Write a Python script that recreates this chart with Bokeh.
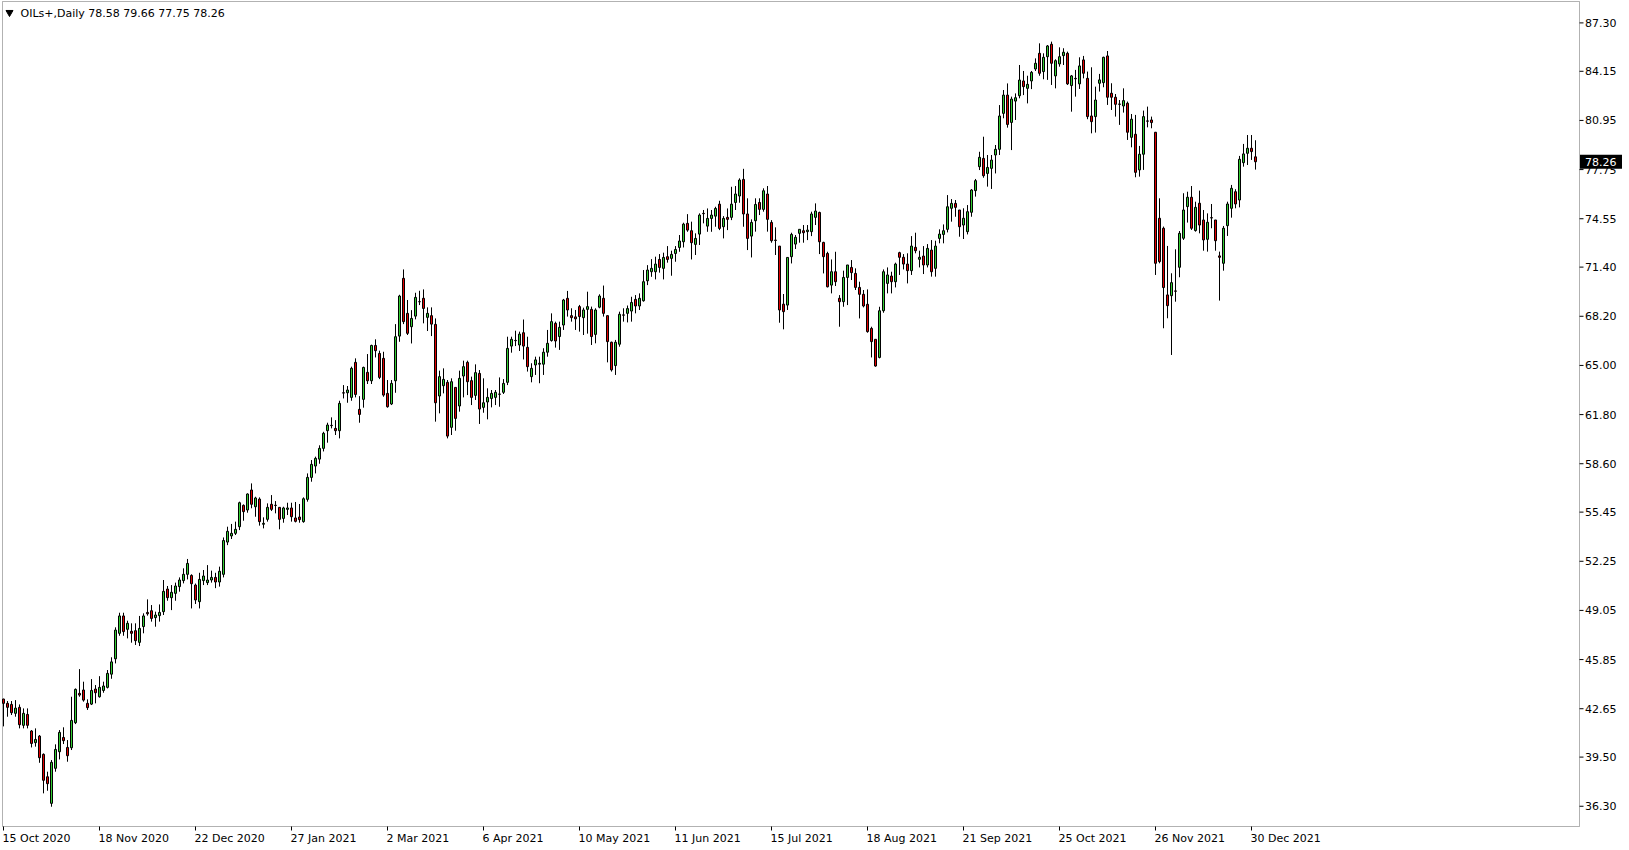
from bokeh.plotting import figure
from bokeh.models import Range1d, BoxAnnotation, ColumnDataSource
from bokeh.core.properties import value
from bokeh.embed import file_html
from bokeh.resources import INLINE

symbol = "OILs+,Daily"

open_ = [
    43.28, 43.00, 42.93, 42.35, 42.74, 41.57, 42.28, 41.20, 40.44, 40.87,
    39.68, 38.22, 36.49, 38.77, 39.85, 40.78, 40.13, 40.11, 41.74, 43.65,
    43.87, 43.00, 42.95, 43.93, 43.43, 43.84, 44.04, 44.90, 45.90, 47.56,
    48.69, 47.82, 47.69, 47.73, 46.97, 48.00, 48.92, 49.03, 48.58, 48.71,
    48.97, 50.44, 49.88, 50.16, 50.60, 50.99, 51.40, 51.33, 50.70, 49.62,
    50.99, 50.86, 51.03, 51.20, 50.90, 51.40, 53.50, 53.90, 54.07, 54.50,
    55.89, 55.59, 56.89, 55.80, 56.30, 54.66, 54.98, 55.96, 55.90, 55.76,
    55.04, 55.63, 55.72, 55.07, 55.13, 54.83, 56.28, 57.71, 58.45, 58.90,
    59.60, 60.75, 61.10, 60.90, 60.75, 63.22, 63.22, 62.92, 65.20, 62.14,
    62.79, 64.55, 64.00, 66.30, 65.78, 65.46, 63.18, 62.49, 64.00, 66.91,
    70.67, 68.39, 67.52, 68.21, 69.15, 69.37, 68.13, 68.24, 67.67, 63.01,
    63.68, 63.90, 60.97, 63.57, 62.36, 64.31, 65.20, 64.01, 63.05, 64.48,
    62.27, 62.62, 62.85, 62.92, 63.14, 63.25, 63.90, 66.26, 66.63, 66.33,
    67.13, 66.18, 64.27, 65.03, 65.08, 65.08, 65.86, 66.62, 67.74, 66.88,
    67.63, 69.37, 68.24, 68.16, 68.83, 68.11, 68.65, 68.65, 67.02, 68.79,
    69.37, 68.24, 66.51, 64.99, 66.38, 68.29, 68.39, 68.54, 69.30, 68.87,
    69.21, 70.51, 71.10, 71.10, 71.90, 71.32, 72.08, 71.97, 72.29, 72.68,
    73.05, 74.25, 73.77, 72.88, 73.55, 74.90, 74.07, 74.57, 74.72, 75.50,
    74.03, 74.64, 74.64, 75.61, 76.03, 77.11, 74.86, 73.42, 74.42, 75.61,
    75.16, 76.16, 74.31, 73.16, 72.77, 68.99, 68.93, 72.08, 72.90, 73.60,
    73.77, 73.71, 73.71, 74.64, 74.96, 73.01, 72.29, 70.23, 71.10, 69.37,
    69.15, 70.73, 71.38, 70.99, 70.08, 69.63, 68.98, 67.41, 66.70, 65.52,
    68.56, 70.34, 70.82, 70.45, 72.34, 72.04, 71.60, 71.17, 72.69, 71.91,
    72.12, 71.54, 72.51, 71.32, 73.27, 73.53, 73.86, 75.23, 75.55, 75.12,
    74.14, 73.71, 74.97, 76.38, 77.94, 78.48, 77.50, 77.83, 78.70, 79.07,
    81.41, 82.60, 80.82, 82.21, 82.56, 83.52, 83.04, 83.52, 84.30, 85.32,
    84.13, 85.10, 85.91, 83.85, 84.63, 85.17, 85.32, 83.22, 83.69, 83.33,
    84.89, 83.69, 81.24, 81.20, 83.37, 83.41, 85.15, 82.72, 82.46, 82.02,
    81.89, 82.07, 79.85, 80.05, 77.73, 78.75, 80.92, 80.98, 80.18, 74.58,
    73.93, 69.59, 69.54, 69.85, 71.39, 73.28, 75.34, 75.95, 73.78, 75.56,
    74.47, 73.21, 74.62, 74.47, 72.13, 71.65, 74.10, 75.23, 76.31, 75.77,
    78.20, 78.81, 79.14, 78.58,
]

high = [
    43.30, 43.15, 43.15, 43.21, 42.93, 42.67, 42.67, 41.26, 41.37, 40.94,
    39.74, 38.55, 39.31, 40.33, 41.26, 41.44, 40.61, 43.43, 43.97, 45.23,
    44.41, 43.26, 44.58, 44.19, 44.77, 44.41, 45.17, 46.00, 47.95, 48.90,
    48.90, 48.38, 48.21, 48.21, 48.69, 48.86, 49.77, 49.40, 48.97, 49.44,
    51.03, 50.64, 50.70, 50.86, 51.20, 51.79, 52.40, 51.40, 50.80, 51.50,
    51.68, 52.00, 51.64, 51.50, 51.90, 53.80, 54.50, 54.68, 54.83, 56.13,
    55.95, 56.67, 57.32, 56.45, 56.41, 55.11, 56.02, 56.56, 56.17, 55.76,
    55.80, 56.06, 56.06, 56.11, 55.98, 56.41, 57.97, 58.84, 59.06, 59.80,
    60.68, 61.27, 61.62, 61.44, 62.70, 63.72, 63.66, 64.92, 65.46, 63.00,
    64.92, 65.74, 66.35, 66.70, 65.96, 65.89, 64.05, 64.05, 67.69, 69.60,
    71.25, 69.26, 68.60, 69.73, 69.86, 69.95, 68.78, 68.78, 68.06, 64.66,
    64.81, 64.05, 64.16, 63.57, 64.66, 65.31, 65.31, 64.27, 65.07, 64.70,
    64.16, 63.51, 63.40, 63.40, 64.22, 64.11, 66.87, 66.87, 67.26, 67.20,
    67.99, 66.87, 65.14, 65.57, 65.57, 66.12, 67.31, 68.39, 67.85, 67.85,
    69.33, 69.85, 68.72, 68.61, 68.94, 68.76, 69.80, 68.83, 68.72, 69.63,
    70.20, 68.24, 66.55, 66.66, 68.50, 68.72, 68.90, 69.47, 69.58, 69.69,
    71.21, 71.53, 71.92, 72.08, 72.25, 72.34, 72.77, 72.47, 72.77, 73.49,
    74.29, 74.85, 74.36, 73.60, 74.90, 75.12, 75.22, 75.12, 75.33, 75.72,
    74.72, 75.22, 76.63, 76.68, 77.18, 77.80, 75.88, 74.51, 75.88, 75.88,
    76.53, 76.68, 74.46, 73.99, 72.77, 69.65, 72.03, 73.64, 73.49, 73.86,
    74.14, 74.14, 75.01, 75.55, 75.01, 73.05, 72.40, 71.90, 72.40, 69.58,
    71.17, 71.54, 71.86, 71.32, 70.45, 69.91, 69.95, 67.52, 66.70, 68.82,
    71.25, 71.38, 71.10, 71.69, 72.40, 72.25, 72.30, 73.42, 73.64, 72.47,
    72.77, 72.90, 73.16, 73.12, 73.86, 74.18, 76.09, 75.83, 75.77, 75.12,
    75.23, 75.44, 76.48, 77.14, 78.91, 79.89, 78.70, 78.70, 79.35, 81.95,
    82.93, 83.36, 82.50, 82.71, 84.56, 84.17, 83.86, 84.17, 84.99, 85.97,
    85.32, 85.86, 86.08, 84.93, 85.71, 85.65, 85.43, 83.91, 84.24, 85.06,
    85.15, 84.13, 84.41, 83.15, 83.98, 85.10, 85.47, 83.37, 82.67, 82.28,
    83.04, 82.18, 81.37, 81.31, 79.29, 81.59, 81.85, 81.20, 80.20, 75.88,
    74.04, 72.78, 71.00, 72.56, 73.75, 76.21, 76.31, 76.68, 75.66, 76.38,
    75.12, 74.90, 75.51, 74.47, 72.41, 74.08, 75.66, 76.75, 76.47, 78.64,
    79.42, 80.00, 80.00, 79.66,
]

low = [
    41.50, 42.13, 42.24, 42.13, 41.37, 41.37, 41.37, 40.13, 40.18, 39.13,
    37.14, 37.31, 36.27, 38.55, 39.35, 40.35, 39.20, 39.96, 41.65, 43.43,
    43.11, 42.57, 42.89, 43.00, 43.37, 43.69, 43.97, 44.60, 45.60, 47.40,
    47.40, 47.23, 46.95, 46.80, 46.73, 47.56, 48.71, 48.32, 47.99, 48.32,
    48.75, 49.68, 49.07, 49.68, 50.27, 50.81, 51.07, 49.18, 49.47, 49.18,
    50.70, 50.70, 50.86, 50.50, 50.60, 51.20, 53.30, 53.70, 53.96, 54.28,
    54.89, 55.41, 55.70, 55.15, 54.57, 54.39, 54.83, 55.52, 55.37, 54.33,
    54.76, 55.26, 54.83, 54.78, 54.76, 54.76, 56.13, 57.43, 57.97, 58.60,
    59.40, 59.97, 60.90, 60.47, 60.25, 62.85, 62.57, 62.70, 62.92, 61.27,
    62.25, 63.79, 63.79, 65.52, 64.11, 62.96, 62.25, 62.42, 63.22, 66.54,
    67.69, 66.98, 66.43, 68.00, 68.93, 67.74, 67.24, 66.91, 61.34, 61.88,
    63.18, 60.25, 60.47, 60.75, 61.99, 62.92, 63.07, 62.42, 62.75, 61.19,
    61.92, 61.49, 62.27, 62.42, 62.31, 63.14, 63.72, 65.83, 66.26, 65.94,
    65.39, 64.60, 63.90, 64.38, 63.84, 64.38, 65.57, 66.55, 66.16, 66.01,
    67.31, 68.18, 67.85, 67.31, 67.20, 66.98, 67.07, 66.33, 66.44, 68.72,
    68.18, 65.20, 64.60, 64.38, 66.22, 67.85, 67.80, 67.85, 68.39, 68.61,
    69.15, 70.23, 70.77, 70.60, 71.04, 70.60, 71.69, 70.84, 71.75, 72.40,
    72.68, 73.70, 71.90, 72.19, 72.84, 74.25, 73.70, 73.70, 74.03, 73.81,
    73.27, 73.81, 74.46, 75.12, 75.59, 74.03, 72.51, 72.03, 73.71, 74.79,
    75.01, 73.71, 72.99, 72.19, 67.78, 67.35, 68.61, 71.64, 72.58, 72.99,
    72.99, 73.16, 73.42, 74.14, 72.25, 70.99, 70.08, 69.69, 70.17, 67.52,
    68.82, 68.93, 70.56, 69.91, 68.06, 68.78, 67.13, 65.52, 64.92, 65.46,
    68.43, 69.69, 69.69, 70.08, 70.89, 71.25, 70.34, 70.89, 72.30, 71.38,
    70.95, 71.38, 70.78, 70.78, 72.95, 72.95, 73.66, 74.36, 74.68, 73.38,
    73.23, 73.53, 74.68, 75.99, 77.72, 77.22, 76.64, 76.49, 77.50, 78.70,
    81.09, 80.48, 79.02, 80.98, 82.39, 82.60, 82.06, 82.99, 84.17, 83.86,
    83.63, 83.59, 83.26, 83.04, 84.45, 84.56, 83.26, 81.52, 82.50, 83.00,
    83.69, 81.03, 80.11, 80.16, 82.83, 83.11, 81.96, 81.63, 81.20, 80.66,
    81.46, 79.68, 79.20, 77.25, 77.29, 77.73, 80.50, 80.44, 70.89, 71.65,
    67.42, 68.07, 65.68, 69.15, 70.74, 73.17, 74.30, 73.82, 73.71, 73.60,
    72.47, 72.41, 73.93, 72.47, 69.22, 71.17, 73.43, 74.62, 75.23, 75.29,
    77.94, 78.05, 78.38, 77.75,
]

close = [
    43.00, 42.74, 42.39, 42.69, 41.61, 42.35, 41.57, 40.39, 40.65, 39.46,
    37.99, 37.77, 39.16, 40.00, 41.11, 40.57, 39.59, 41.89, 43.91, 43.54,
    43.21, 42.72, 43.84, 43.69, 44.04, 44.13, 44.95, 45.70, 47.77, 48.69,
    47.67, 48.21, 47.56, 47.08, 47.88, 48.69, 48.83, 48.53, 48.75, 48.92,
    50.29, 49.88, 50.23, 50.64, 51.03, 51.40, 52.11, 50.79, 49.73, 51.07,
    51.29, 51.03, 51.20, 50.90, 51.60, 53.60, 54.20, 54.07, 54.33, 56.06,
    55.48, 56.63, 55.96, 56.37, 54.83, 54.72, 55.76, 55.63, 55.88, 54.98,
    55.72, 55.72, 55.15, 54.85, 54.96, 56.32, 57.71, 58.56, 58.95, 59.60,
    60.58, 61.12, 61.08, 60.75, 62.53, 63.20, 63.40, 64.81, 63.11, 61.81,
    64.87, 64.00, 66.30, 65.96, 64.22, 63.07, 62.31, 63.83, 66.87, 69.52,
    67.85, 67.09, 68.06, 69.43, 69.15, 68.71, 68.39, 67.69, 62.57, 64.27,
    64.09, 60.40, 63.94, 61.55, 64.16, 64.92, 63.94, 62.92, 64.53, 62.16,
    62.57, 62.92, 63.18, 63.25, 63.12, 63.83, 66.11, 66.70, 66.61, 67.04,
    66.26, 64.92, 64.81, 65.36, 65.14, 65.86, 66.44, 67.85, 66.59, 67.48,
    69.26, 68.61, 68.11, 68.03, 68.18, 68.61, 68.83, 66.88, 68.61, 69.52,
    68.39, 66.55, 64.71, 66.51, 68.33, 68.27, 68.70, 69.10, 68.87, 69.37,
    70.45, 71.21, 71.32, 71.60, 71.38, 72.03, 71.90, 72.23, 72.55, 73.10,
    74.20, 73.81, 72.99, 73.27, 74.79, 74.88, 74.57, 74.79, 75.22, 73.92,
    74.57, 74.51, 75.50, 76.16, 77.07, 74.86, 73.27, 74.31, 75.48, 75.16,
    76.37, 74.51, 73.12, 73.14, 68.61, 68.50, 72.03, 73.53, 73.34, 73.86,
    73.64, 73.81, 74.86, 75.05, 73.05, 72.08, 70.12, 71.10, 70.45, 69.15,
    70.73, 71.54, 71.04, 70.08, 69.63, 68.87, 67.20, 66.55, 64.96, 68.56,
    71.10, 70.89, 70.45, 71.60, 72.04, 71.60, 71.17, 72.77, 72.47, 72.04,
    71.54, 72.62, 71.10, 72.77, 73.55, 73.77, 75.33, 75.55, 75.29, 74.03,
    74.58, 75.01, 76.42, 77.03, 78.55, 77.35, 77.89, 78.37, 79.07, 81.24,
    82.60, 80.69, 82.34, 82.43, 83.58, 83.15, 83.30, 84.08, 84.67, 84.02,
    85.06, 85.80, 84.67, 84.84, 85.10, 85.39, 83.33, 83.85, 83.66, 84.50,
    84.02, 81.20, 80.87, 82.28, 83.59, 85.06, 82.46, 82.46, 82.00, 82.00,
    82.24, 80.18, 81.03, 77.57, 78.75, 81.20, 80.90, 80.81, 71.65, 71.76,
    70.07, 68.89, 70.39, 69.83, 73.60, 75.12, 75.95, 73.93, 75.29, 74.14,
    73.17, 74.32, 74.60, 73.12, 72.04, 73.93, 75.51, 76.53, 75.51, 78.42,
    78.77, 79.14, 78.92, 78.26,
]

date_labels = ["15 Oct 2020", "18 Nov 2020", "22 Dec 2020", "27 Jan 2021", "2 Mar 2021",
               "6 Apr 2021", "10 May 2021", "11 Jun 2021", "15 Jul 2021", "18 Aug 2021",
               "21 Sep 2021", "25 Oct 2021", "26 Nov 2021", "30 Dec 2021"]
bars_per_label = 24

price_ticks = [87.30, 84.15, 80.95, 77.75, 74.55, 71.40, 68.20, 65.00, 61.80,
               58.60, 55.45, 52.25, 49.05, 45.85, 42.65, 39.50, 36.30]

# ---------------- layout (pixels of the 1629x850 canvas) ----------------
# Bokeh shifts its drawing by half a pixel, so integer positions give crisp 1px lines.
BULL = "#32cd32"
BEAR = "#e00000"
FONT = "DejaVu Sans"
W, H = 1629, 850
bar_px = 4.0          # horizontal distance between bars
px_per_unit = 15.36   # vertical pixels per price unit
first_bar_px = 3.0    # x pixel of bar 0
top_tick_px = 22.4    # y pixel of the highest price tick
chart_l, chart_r, chart_t, chart_b = 2.0, 1579.0, 1.0, 826.0

x_start = -first_bar_px / bar_px
x_end = x_start + W / bar_px
y_top = price_ticks[0] + top_tick_px / px_per_unit
y_bot = y_top - H / px_per_unit


def X(px):
    return x_start + px / bar_px


def Y(py):
    return y_top - py / px_per_unit


n = len(close)
idx = list(range(n))
body_top = [max(o, c) for o, c in zip(open_, close)]
body_bot = [min(o, c) for o, c in zip(open_, close)]
fills = [BULL if c >= o else BEAR for o, c in zip(open_, close)]
src = ColumnDataSource(dict(x=idx, h=high, l=low, top=body_top, bottom=body_bot, fill=fills))

p = figure(width=W, height=H, x_range=Range1d(x_start, x_end), y_range=Range1d(y_bot, y_top),
           output_backend="svg", toolbar_location=None, x_axis_type=None, y_axis_type=None,
           min_border=0, background_fill_color="white", border_fill_color="white")
p.outline_line_color = None
p.grid.visible = False

# chart frame
p.add_layout(BoxAnnotation(left=X(chart_l), right=X(chart_r), top=Y(chart_t), bottom=Y(chart_b),
                           fill_alpha=0, line_color="black", line_width=1))

# candles
p.segment(x0="x", y0="h", x1="x", y1="l", source=src, line_color="black", line_width=1)
p.vbar(x="x", width=0.5, top="top", bottom="bottom", source=src,
       fill_color="fill", line_color="black", line_width=1)

# price scale
nt = len(price_ticks)
p.segment(x0=[X(chart_r)] * nt, y0=price_ticks, x1=[X(chart_r + 4)] * nt, y1=price_ticks,
          line_color="black", line_width=1)
p.text(x=[X(chart_r + 5.5)] * nt, y=price_ticks, text=["%.2f" % t for t in price_ticks],
       text_align="left", text_baseline="middle", text_font=value(FONT),
       text_font_size=value("11px"), text_color="black")

# time scale
tick_pos = [k * bars_per_label for k in range(len(date_labels))]
nd = len(tick_pos)
p.segment(x0=tick_pos, y0=[Y(chart_b)] * nd, x1=tick_pos, y1=[Y(chart_b + 4)] * nd,
          line_color="black", line_width=1)
p.text(x=tick_pos, y=[Y(837.5)] * nd, text=date_labels, x_offset=-1,
       text_align="left", text_baseline="middle", text_font=value(FONT),
       text_font_size=value("11px"), text_color="black")

# title
p.scatter(x=[X(9)], y=[Y(12)], marker="inverted_triangle", size=7,
          fill_color="black", line_color="black")
title_txt = "%s  %.2f %.2f %.2f %.2f" % (symbol, open_[-1], high[-1], low[-1], close[-1])
p.text(x=[X(20)], y=[Y(12.5)], text=[title_txt], text_align="left", text_baseline="middle",
       text_font=value(FONT), text_font_size=value("11px"), text_color="black")

# current price tag
last = close[-1]
p.quad(left=[X(chart_r + 0.5)], right=[X(1621.5)], top=[last + 7 / px_per_unit],
       bottom=[last - 7 / px_per_unit], fill_color="black", line_color=None)
p.text(x=[X(chart_r + 5.5)], y=[last], text=["%.2f" % last], text_align="left",
       text_baseline="middle", text_font=value(FONT), text_font_size=value("11px"),
       text_color="white")

open("out.html", "w").write(file_html(p, INLINE))
